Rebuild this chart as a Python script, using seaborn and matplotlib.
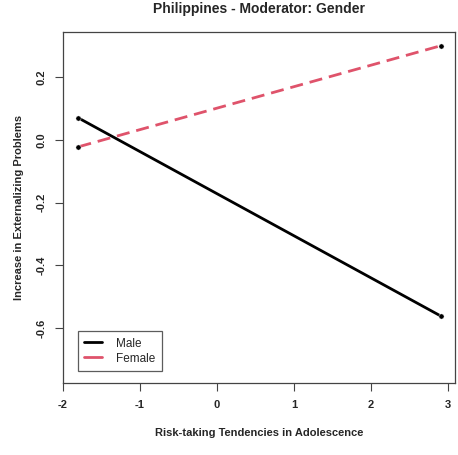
import pandas as pd
import matplotlib
matplotlib.use("Agg")
import matplotlib.pyplot as plt
import seaborn as sns
from matplotlib.lines import Line2D

# simple slopes
risk = [-1.8, 2.9]
male = [0.07, -0.561]
female = [-0.022, 0.30]

df = pd.DataFrame({
    "risk": risk + risk,
    "ext": male + female,
    "group": ["Male"] * 2 + ["Female"] * 2,
})

sns.set_style("white")
plt.rcParams["font.family"] = ["Liberation Sans", "DejaVu Sans"]

fig = plt.figure(figsize=(4.58, 4.55), dpi=100)
ax = fig.add_axes([63 / 458, 72 / 455, 392 / 458, 351 / 455])

pal = {"Male": "black", "Female": "#DF536B"}
sns.lineplot(data=df, x="risk", y="ext", hue="group", style="group",
             palette=pal, dashes={"Male": "", "Female": (4.7, 2.5)},
             linewidth=2, ax=ax, legend=False)
sns.scatterplot(data=df, x="risk", y="ext", color="black", s=14,
                ax=ax, legend=False, zorder=3)

ax.set_xlim(-1.988, 3.088)
ax.set_ylim(-0.775, 0.344)
ax.set_xticks([-2, -1, 0, 1, 2, 3])
ax.set_yticks([-0.6, -0.4, -0.2, 0.0, 0.2])
ax.set_xticklabels(["-2", "-1", "0", "1", "2", "3"], fontweight="bold", fontsize=8)
ax.set_yticklabels(["-0.6", "-0.4", "-0.2", "0.0", "0.2"], fontweight="bold",
                   fontsize=8, rotation=90, va="center")
ax.tick_params(axis="both", direction="out", length=6, width=0.8, color="#444444",
               bottom=True, left=True, pad=6)
for sp in ax.spines.values():
    sp.set_color("#444444")
    sp.set_linewidth(0.9)

ax.set_xlabel("Risk-taking Tendencies in Adolescence", fontweight="bold", fontsize=8, labelpad=13)
ax.set_ylabel("Increase in Externalizing Problems", fontweight="bold", fontsize=8, labelpad=9)
ax.set_title("Philippines - Moderator: Gender", fontweight="bold", fontsize=10, pad=14)

handles = [Line2D([], [], color="black", lw=2),
           Line2D([], [], color="#DF536B", lw=2)]
leg = ax.legend(handles, ["Male", "Female"], loc="lower left",
                bbox_to_anchor=(15 / 392, 12 / 351), borderaxespad=0,
                fontsize=8.5, frameon=True, fancybox=False,
                handlelength=1.45, handletextpad=1.2, borderpad=0.55,
                labelspacing=0.25)
leg.get_frame().set_edgecolor("#333333")
leg.get_frame().set_linewidth(0.9)

fig.savefig("out.png", dpi=100)
